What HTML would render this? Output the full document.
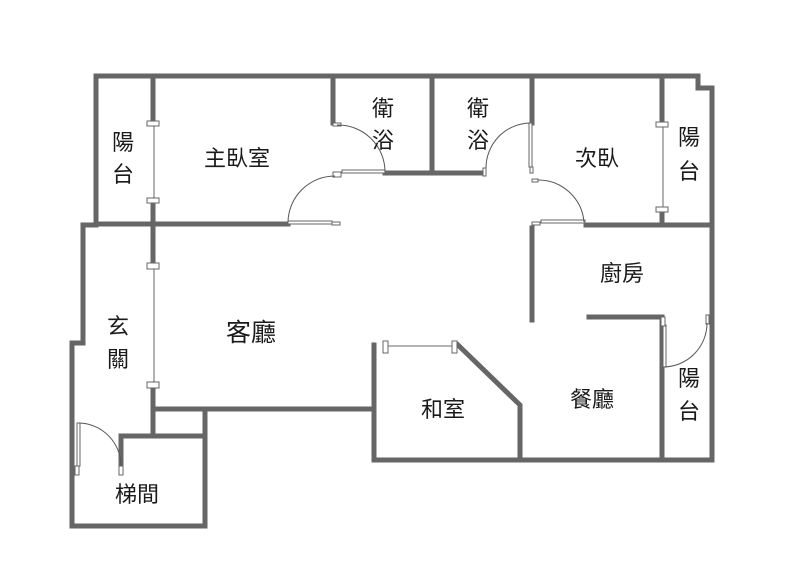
<!DOCTYPE html>
<html><head><meta charset="utf-8"><style>
html,body{margin:0;padding:0;background:#fff;}
svg{display:block;}
text{font-family:"Liberation Sans","Noto Sans CJK TC",sans-serif;font-size:22px;fill:#1a1a1a;text-anchor:middle;}
</style></head><body>
<svg width="797" height="575" viewBox="0 0 797 575" xmlns="http://www.w3.org/2000/svg">
<g stroke="#666" stroke-width="5" fill="none" stroke-linecap="square">
<polyline points="96,224 96,76 698,76 698,88 712,88 712,460"/>
<polyline points="96,225 83,225 83,343 72,343 72,526 205,526 205,409"/>
<line x1="374" y1="460" x2="712" y2="460"/>
<line x1="96" y1="224" x2="288" y2="224"/>
<line x1="153" y1="76" x2="153" y2="122"/>
<line x1="153" y1="202" x2="153" y2="264"/>
<line x1="333" y1="76" x2="333" y2="123"/>
<line x1="385" y1="173" x2="483" y2="173"/>
<line x1="432" y1="76" x2="432" y2="173"/>
<line x1="532" y1="76" x2="532" y2="123"/>
<line x1="586" y1="225" x2="712" y2="225"/>
<line x1="662" y1="76" x2="662" y2="122"/>
<line x1="662" y1="211" x2="662" y2="225"/>
<line x1="532" y1="228" x2="532" y2="320"/>
<polyline points="589,317 662,317 662,460"/>
<polyline points="153,386 153,409 374,409"/>
<polyline points="374,460 374,345"/>
<polyline points="458,345 520,405 520,460"/>
<polyline points="153,409 153,436"/>
<polyline points="121,468 121,436 205,436"/>
</g>
<g stroke="#666" stroke-width="1" fill="#fff">
<line x1="154" y1="124" x2="154" y2="200"/>
<rect x="147" y="121" width="12" height="5"/><rect x="147" y="198" width="12" height="5"/>
<line x1="154" y1="268" x2="154" y2="384"/>
<rect x="147" y="263" width="12" height="6"/><rect x="147" y="382" width="12" height="6"/>
<line x1="663" y1="124" x2="663" y2="210"/>
<rect x="656" y="122" width="12" height="5"/><rect x="656" y="207" width="12" height="5"/>
<line x1="386" y1="346" x2="456" y2="346"/>
<rect x="383" y="341" width="5" height="12"/><rect x="452" y="341" width="5" height="12"/>
<rect x="288" y="221" width="44" height="3"/><rect x="332" y="222" width="8" height="3"/>
<rect x="342" y="170" width="43" height="3"/><rect x="333" y="172" width="8" height="5"/><rect x="333" y="123" width="8" height="3"/>
<rect x="529" y="123" width="3" height="44"/><rect x="483" y="168" width="3" height="8"/><rect x="530" y="167" width="3" height="6"/>
<rect x="541" y="220" width="44" height="3"/><rect x="532" y="179" width="6" height="3"/><rect x="532" y="222" width="8" height="3"/>
<rect x="663" y="325" width="3" height="42"/><rect x="661" y="317" width="4" height="9"/><rect x="706" y="315" width="3" height="9"/>
<rect x="77" y="423" width="3" height="43"/><rect x="75" y="466" width="4" height="9"/><rect x="119" y="466" width="4" height="9"/>
</g>
<g stroke="#555" stroke-width="1" fill="none">
<path d="M288,222 A47,47 0 0 1 335,176"/>
<path d="M337,125 A47,47 0 0 1 385,172"/>
<path d="M530,123 A45,45 0 0 0 486,168"/>
<path d="M538,180 A46,46 0 0 1 584,222"/>
<path d="M707,323 A44,44 0 0 1 664,367"/>
<path d="M79,423 A43,43 0 0 1 121,466"/>
</g>
<text x="123" y="150">陽</text><text x="123" y="182">台</text>
<text x="237" y="166">主臥室</text>
<text x="383" y="116">衛</text><text x="383" y="148">浴</text>
<text x="478" y="116">衛</text><text x="478" y="148">浴</text>
<text x="597" y="166">次臥</text>
<text x="689" y="145">陽</text><text x="689" y="179">台</text>
<text x="622" y="281">廚房</text>
<text x="118" y="334">玄</text><text x="118" y="367">關</text>
<text x="251" y="341" style="font-size:25px">客廳</text>
<text x="443" y="417">和室</text>
<text x="592" y="407">餐廳</text>
<text x="689" y="386">陽</text><text x="689" y="419">台</text>
<text x="137" y="502">梯間</text>
</svg>
</body></html>
